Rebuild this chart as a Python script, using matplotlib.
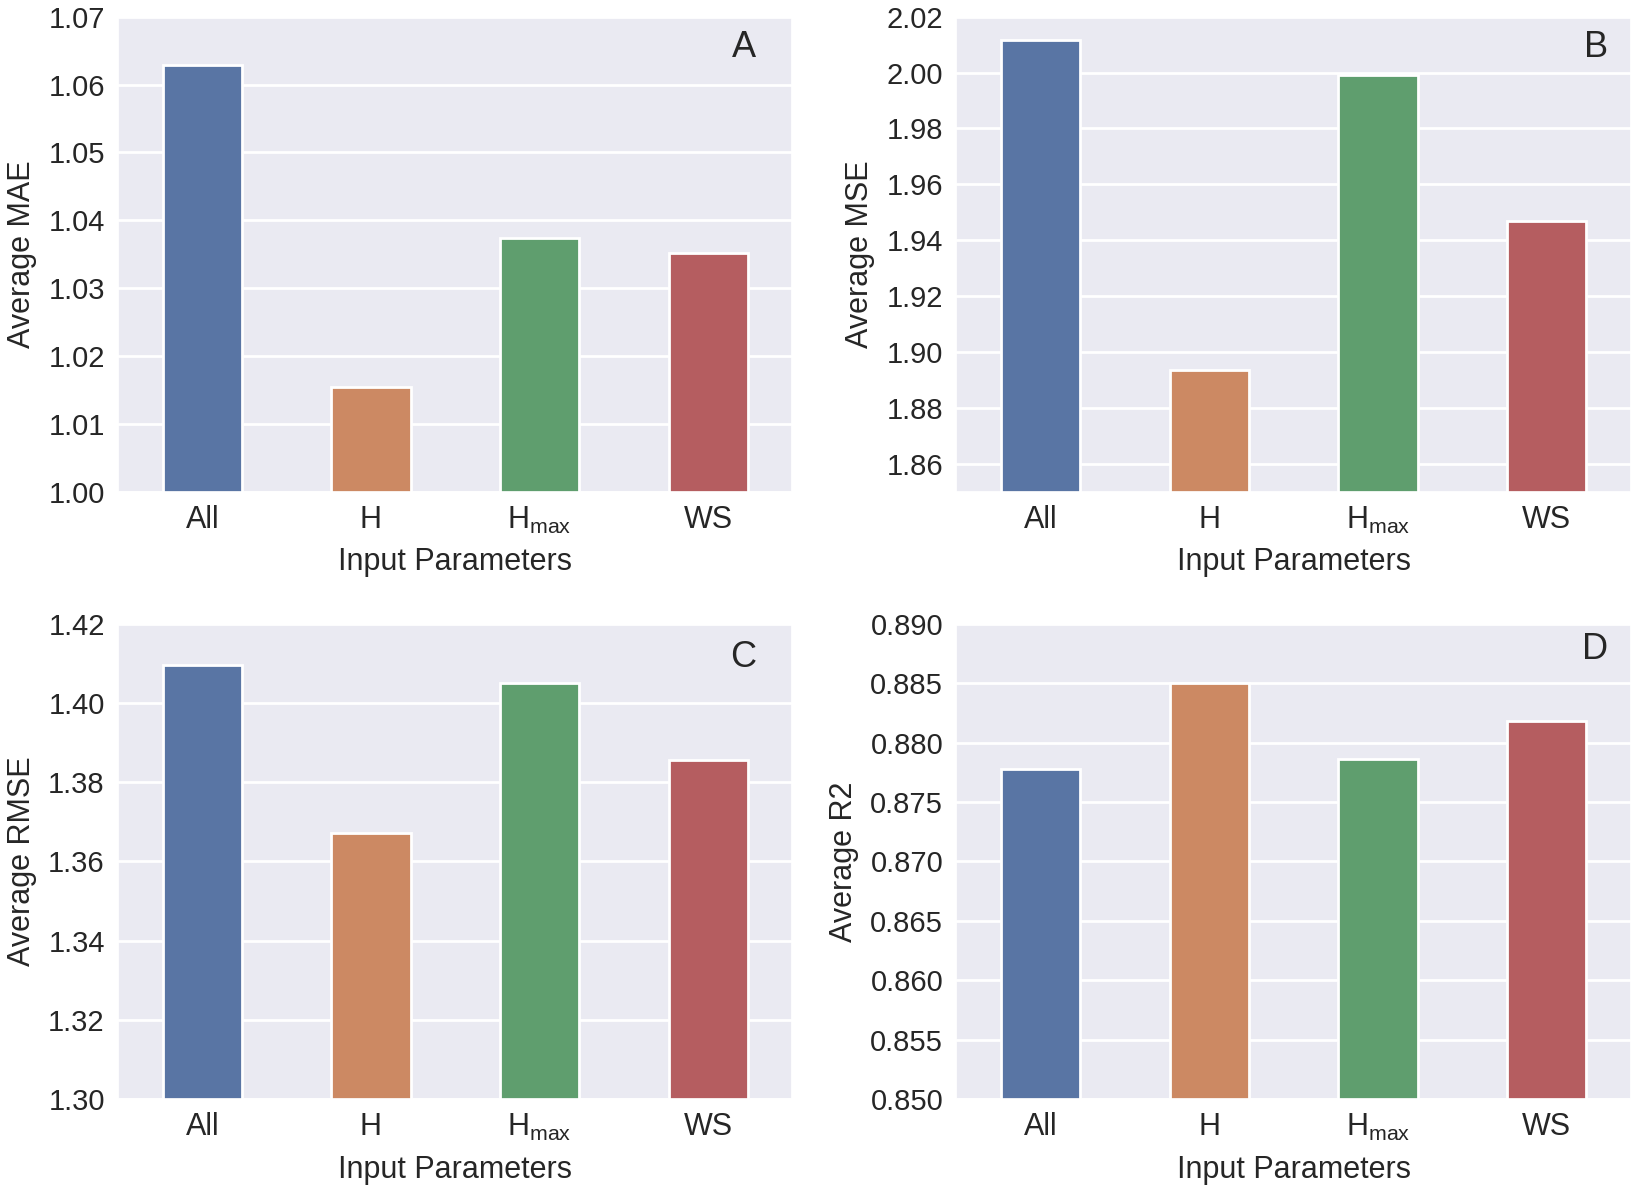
import numpy as np
import pandas as pd
import seaborn as sns
import matplotlib.pyplot as plt

params = ['All', 'H', 'H$_{max}$', 'WS']

mae = [1.0629, 1.0154, 1.0374, 1.0352]
mse = [2.0118, 1.8936, 1.9991, 1.9469]
rmse = [1.4095, 1.3673, 1.4050, 1.3857]
r2 = [0.8778, 0.8850, 0.8786, 0.8818]

sns.set_theme(style='darkgrid', palette='deep')
plt.rcParams['font.family'] = ['Liberation Sans', 'DejaVu Sans']
plt.rcParams['mathtext.default'] = 'regular'

fig, axes = plt.subplots(2, 2, figsize=(16.39, 11.87), dpi=100)
fig.subplots_adjust(left=0.072, right=0.995, top=0.986, bottom=0.074, wspace=0.243, hspace=0.277)

panels = [
    (axes[0, 0], mae, 'Average MAE', (1.00, 1.07), np.arange(1.00, 1.0701, 0.01), '%.2f', 'A', (0.946, 0.935)),
    (axes[0, 1], mse, 'Average MSE', (1.85, 2.02), np.arange(1.86, 2.0201, 0.02), '%.2f', 'B', (0.967, 0.935)),
    (axes[1, 0], rmse, 'Average RMSE', (1.30, 1.42), np.arange(1.30, 1.4201, 0.02), '%.2f', 'C', (0.946, 0.93)),
    (axes[1, 1], r2, 'Average R2', (0.850, 0.890), np.arange(0.850, 0.8901, 0.005), '%.3f', 'D', (0.967, 0.945)),
]

for ax, vals, ylab, ylim, ticks, fmt, letter, pos in panels:
    df = pd.DataFrame({'Input Parameters': params, 'val': vals})
    sns.barplot(data=df, x='Input Parameters', y='val', hue='Input Parameters',
                palette='deep', width=0.47, edgecolor='white', linewidth=2, ax=ax, legend=False)
    ax.set_ylim(*ylim)
    ax.set_yticks(ticks)
    ax.set_yticklabels([fmt % t for t in ticks], fontsize=21)
    ax.tick_params(axis='x', labelsize=22)
    ax.set_ylabel(ylab, fontsize=22, labelpad=8)
    ax.set_xlabel('Input Parameters', fontsize=22, labelpad=8)
    ax.grid(axis='x', visible=False)
    ax.grid(axis='y', color='white', linewidth=2)
    ax.text(pos[0], pos[1], letter, transform=ax.transAxes, fontsize=26,
            ha='right', va='center')

plt.savefig('out.png', dpi=100)
